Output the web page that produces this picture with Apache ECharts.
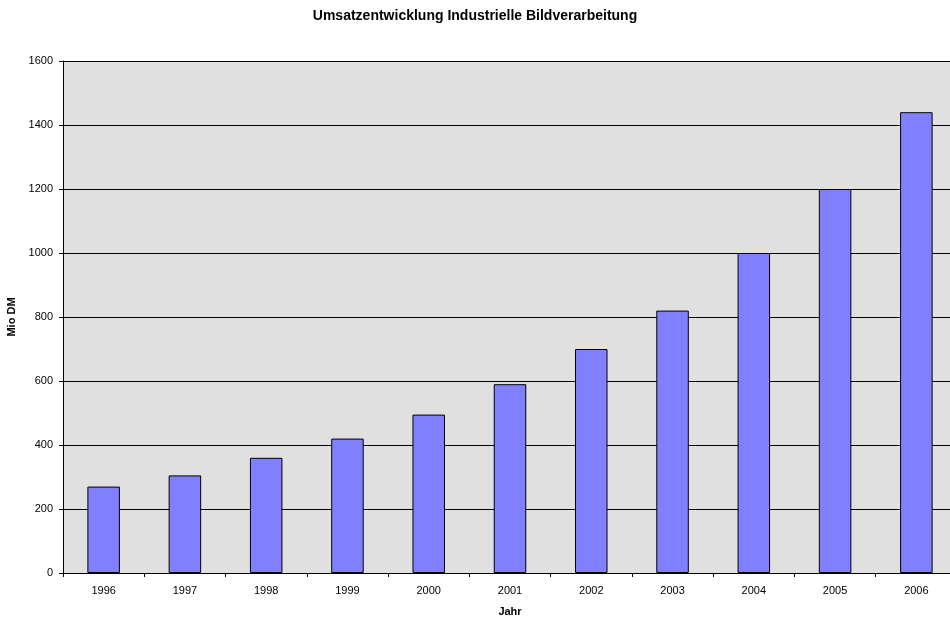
<!DOCTYPE html>
<html><head><meta charset="utf-8">
<script src="https://cdn.jsdelivr.net/npm/echarts@6/dist/echarts.min.js"></script>
<style>html,body{margin:0;padding:0;background:#fff}#c{width:950px;height:619px}</style>
</head><body><div id="c"></div>
<script>
const years = ['1996','1997','1998','1999','2000','2001','2002','2003','2004','2005','2006'];
const umsatz = [270, 305, 360, 420, 495, 590, 700, 820, 1000, 1200, 1440];
const titleText = 'Umsatzentwicklung Industrielle Bildverarbeitung';
const xName = 'Jahr';
const yName = 'Mio DM';
const font = 'Liberation Sans, Arial, sans-serif';
const chart = echarts.init(document.getElementById('c'), null, {renderer:'canvas'});
chart.setOption({
  backgroundColor: '#ffffff',
  animation: false,
  title: {text: titleText, left: 'center', top: 4, padding: 5,
    textStyle: {fontFamily: font, fontSize: 14, fontWeight: 'bold', color: '#000'}},
  grid: {left: 63, top: 61, right: -7, bottom: 46, show: true, backgroundColor: '#e0e0e0', borderWidth: 0,
    containLabel: false, outerBoundsMode: 'none'},
  xAxis: {type: 'category', data: years, name: xName, nameLocation: 'middle', nameGap: 33,
    nameTextStyle: {fontFamily: font, fontSize: 11, fontWeight: 'bold', color: '#000'},
    axisLine: {lineStyle: {color: '#000', width: 1}},
    axisTick: {show: true, alignWithLabel: false, length: 4, inside: false, lineStyle: {color: '#000'}},
    axisLabel: {fontFamily: font, fontSize: 11, color: '#000', margin: 12},
    splitLine: {show: false}},
  yAxis: {type: 'value', min: 0, max: 1600, interval: 200, name: yName, nameLocation: 'middle', nameGap: 40,
    nameTextStyle: {fontFamily: font, fontSize: 11, fontWeight: 'bold', color: '#000'},
    axisLine: {show: true, lineStyle: {color: '#000', width: 1}},
    axisTick: {show: true, length: 4, lineStyle: {color: '#000'}},
    axisLabel: {fontFamily: font, fontSize: 11, color: '#000', margin: 10, formatter: v => String(v)},
    splitLine: {show: true, lineStyle: {color: '#000', width: 1}}},
  series: [{type: 'bar', data: umsatz, barWidth: '40%',
    itemStyle: {color: '#8080ff', borderColor: '#000', borderWidth: 1}}]
});
</script></body></html>
